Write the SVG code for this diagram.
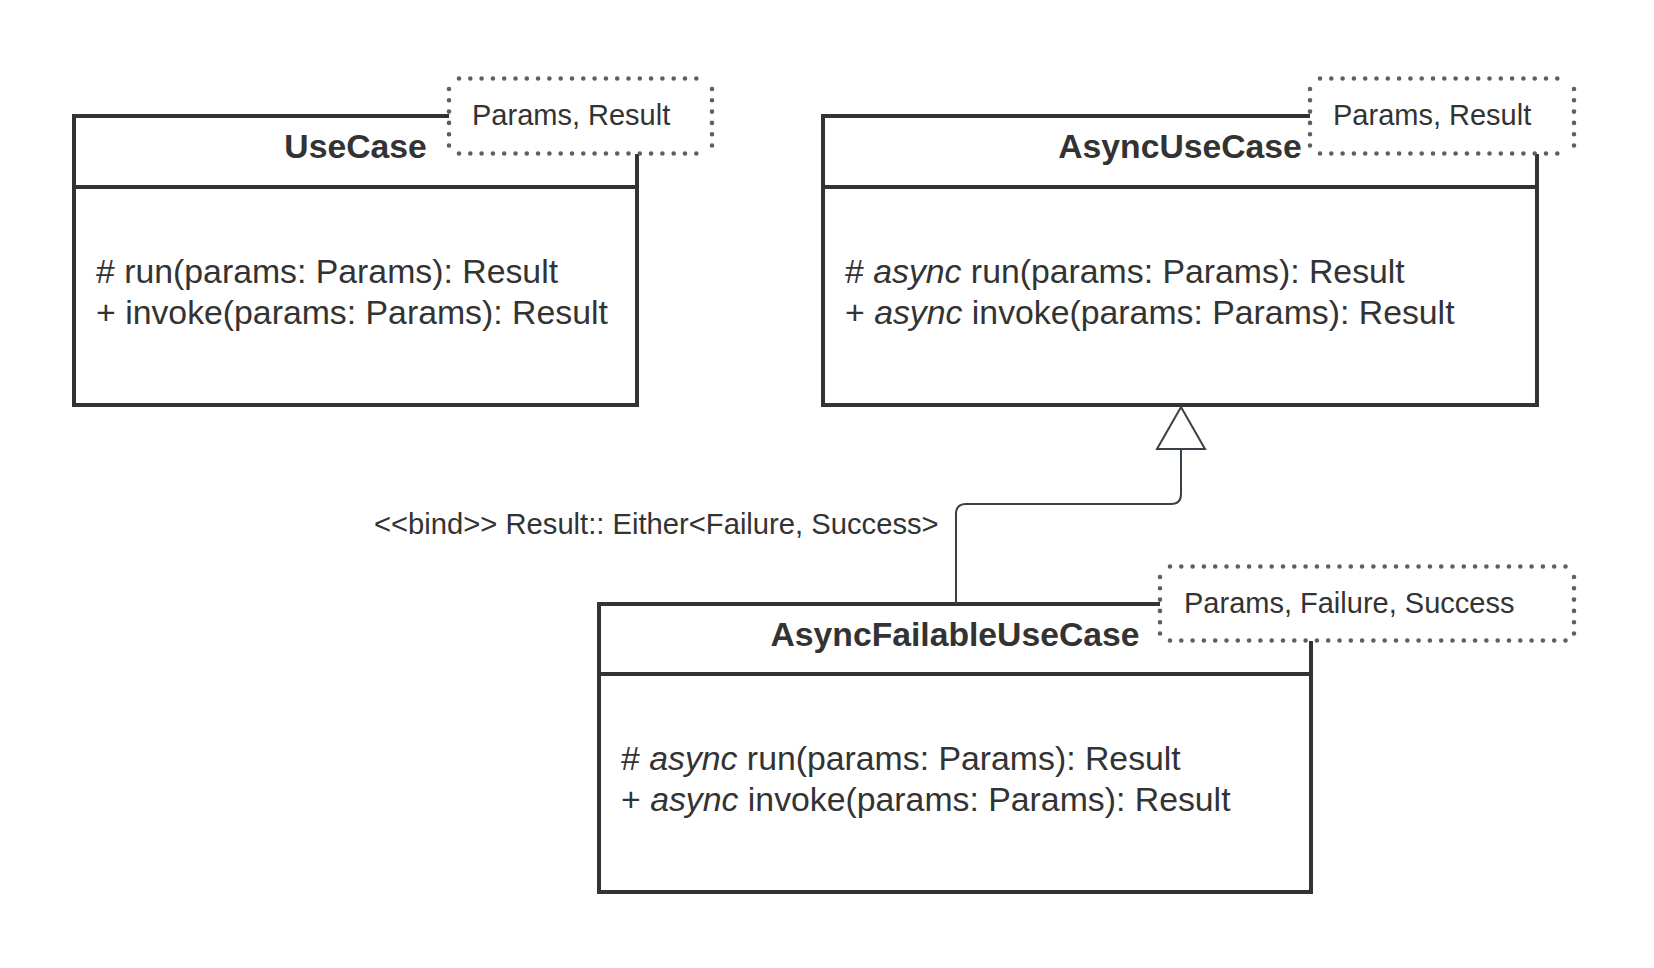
<svg xmlns="http://www.w3.org/2000/svg" width="1654" height="968" viewBox="0 0 1654 968">
<defs>
<style>
.cls{fill:#ffffff;stroke:#333333;stroke-width:4}
.div{stroke:#333333;stroke-width:4}
.tplbg{fill:#ffffff;stroke:none}
.dots line{fill:none;stroke:#5f5f5f;stroke-width:4.6;stroke-dasharray:0 11.3;stroke-linecap:round}
.name{font-family:"Liberation Sans",Arial,sans-serif;font-size:33.7px;font-weight:bold;fill:#333333;text-anchor:middle}
.op{font-family:"Liberation Sans",Arial,sans-serif;font-size:33.8px;fill:#333333}
.tt{font-family:"Liberation Sans",Arial,sans-serif;font-size:29px;fill:#333333}
.lbl{font-family:"Liberation Sans",Arial,sans-serif;font-size:29.2px;fill:#333333}
.it{font-style:italic}
.conn{fill:none;stroke:#394049;stroke-width:2}
.head{fill:#ffffff;stroke:#394049;stroke-width:2;stroke-linejoin:miter}
</style>
</defs>
<rect width="1654" height="968" fill="#ffffff"/>
<g id="UseCase">
<rect class="cls" x="74" y="116" width="563" height="289"/>
<line class="div" x1="74" y1="187" x2="637" y2="187"/>
<text class="name" x="355.5" y="158">UseCase</text>
<text class="op" x="96" y="283"># run(params: Params): Result</text>
<text class="op" x="96" y="324">+ invoke(params: Params): Result</text>
<rect class="tplbg" x="449" y="78" width="263" height="76"/>
<g class="dots">
<line x1="459" y1="78.5" x2="704" y2="78.5"/>
<line x1="712" y1="89" x2="712" y2="146"/>
<line x1="459" y1="153.5" x2="704" y2="153.5"/>
<line x1="449" y1="89" x2="449" y2="146"/>
</g>
<text class="tt" x="472" y="125">Params, Result</text>
</g>
<g id="AsyncUseCase">
<rect class="cls" x="823" y="116" width="714" height="289"/>
<line class="div" x1="823" y1="187" x2="1537" y2="187"/>
<text class="name" x="1180" y="158">AsyncUseCase</text>
<text class="op" x="845" y="283"># <tspan class="it">async</tspan> run(params: Params): Result</text>
<text class="op" x="845" y="324">+ <tspan class="it">async</tspan> invoke(params: Params): Result</text>
<rect class="tplbg" x="1310" y="78" width="264" height="76"/>
<g class="dots">
<line x1="1320" y1="78.5" x2="1565" y2="78.5"/>
<line x1="1574" y1="89" x2="1574" y2="146"/>
<line x1="1320" y1="153.5" x2="1565" y2="153.5"/>
<line x1="1310" y1="89" x2="1310" y2="146"/>
</g>
<text class="tt" x="1333" y="125">Params, Result</text>
</g>
<g id="AsyncFailableUseCase">
<rect class="cls" x="599" y="604" width="712" height="288"/>
<line class="div" x1="599" y1="674" x2="1311" y2="674"/>
<text class="name" x="955" y="646">AsyncFailableUseCase</text>
<text class="op" x="621" y="770"># <tspan class="it">async</tspan> run(params: Params): Result</text>
<text class="op" x="621" y="811">+ <tspan class="it">async</tspan> invoke(params: Params): Result</text>
<rect class="tplbg" x="1160" y="566" width="414" height="75"/>
<g class="dots">
<line x1="1170" y1="566.5" x2="1566" y2="566.5"/>
<line x1="1574" y1="577" x2="1574" y2="634"/>
<line x1="1170" y1="640.5" x2="1566" y2="640.5"/>
<line x1="1160" y1="577" x2="1160" y2="634"/>
</g>
<text class="tt" x="1184" y="613">Params, Failure, Success</text>
</g>
<g id="connectors">
<path class="conn" d="M956,604 L956,514 Q956,504 966,504 L1171,504 Q1181,504 1181,494 L1181,449"/>
<polygon class="head" points="1181,407 1205,449 1157,449"/>
<text class="lbl" x="374" y="534">&lt;&lt;bind&gt;&gt; Result:: Either&lt;Failure, Success&gt;</text>
</g>
</svg>
